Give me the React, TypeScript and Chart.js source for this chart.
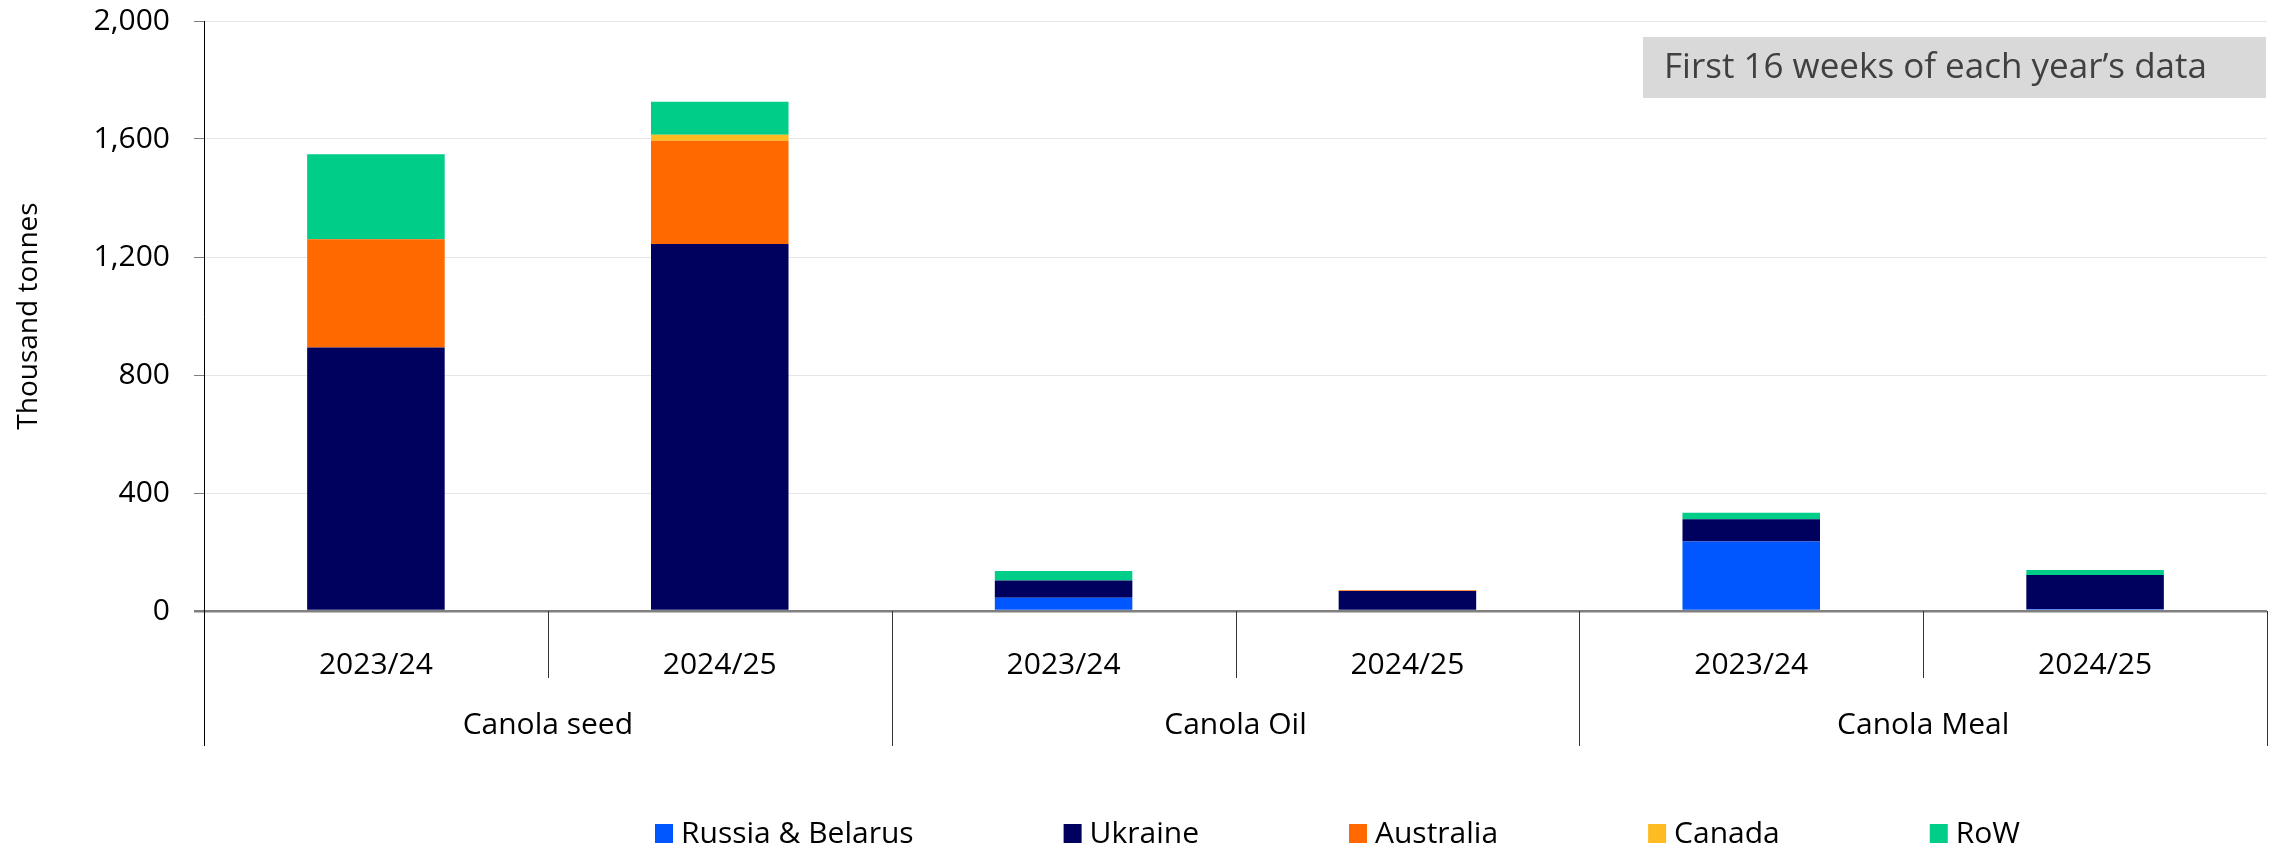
import React, { useEffect, useRef } from "react";
import { Chart, registerables } from "chart.js";

Chart.register(...registerables);

const yearLabels = ["2023/24", "2024/25", "2023/24", "2024/25", "2023/24", "2024/25"];
const groupLabels = ["Canola seed", "Canola Oil", "Canola Meal"];
const seriesNames = ["Russia & Belarus", "Ukraine", "Australia", "Canada", "RoW"];
const russiaBelarus = [0, 0, 45, 0, 236, 6];
const ukraine = [893, 1244, 58, 68, 75, 116];
const australia = [367, 350, 0, 2, 0, 0];
const canada = [0, 20, 0, 0, 0, 0];
const row = [288, 112, 33, -4, 22, 17];
const seriesColors = ["#0057FF", "#00005F", "#FF6900", "#FFBB22", "#00CD88"];
const yTicks = [0, 400, 800, 1200, 1600, 2000];
const noteText = "First 16 weeks of each year\u2019s data";
const yTitle = "Thousand tonnes";

const FONT = "'Open Sans', 'Noto Sans', sans-serif";

const overlayPlugin = {
  id: "overlay",
  afterDraw(chart: any) {
    const ctx = chart.ctx;
    const xs = chart.scales.x;
    const area = chart.chartArea;
    const n = yearLabels.length;
    const base = area.bottom;
    ctx.save();
    // separators
    const bounds: number[] = [];
    for (let i = 0; i <= n; i++) {
      if (i === 0) bounds.push(area.left);
      else if (i === n) bounds.push(area.right);
      else bounds.push((xs.getPixelForValue(i - 1) + xs.getPixelForValue(i)) / 2);
    }
    ctx.lineWidth = 1;
    bounds.forEach((bx, i) => {
      const long = i % 2 === 0;
      ctx.strokeStyle = i === 0 ? "#000000" : "#333333";
      ctx.beginPath();
      const px = Math.round(bx) + 0.5;
      ctx.moveTo(px, base);
      ctx.lineTo(px, long ? 746 : 678);
      ctx.stroke();
    });
    // group labels
    ctx.fillStyle = "#000000";
    ctx.font = `30px ${FONT}`;
    ctx.textAlign = "center";
    ctx.textBaseline = "middle";
    groupLabels.forEach((g, gi) => {
      const cx = (bounds[gi * 2] + bounds[gi * 2 + 2]) / 2;
      ctx.fillText(g, cx, 725);
    });
    // note box
    ctx.fillStyle = "#D9D9D9";
    ctx.fillRect(1643, 37, 2266 - 1643, 61);
    ctx.fillStyle = "#404040";
    ctx.font = `35px ${FONT}`;
    ctx.textAlign = "left";
    ctx.textBaseline = "middle";
    ctx.fillText(noteText, 1664, 68);
    // legend
    ctx.font = `30px ${FONT}`;
    let lx = 655;
    const ly = 834;
    seriesNames.forEach((name, i) => {
      ctx.fillStyle = seriesColors[i];
      ctx.fillRect(lx, ly - 10, 18, 19);
      ctx.fillStyle = "#000000";
      ctx.fillText(name, lx + 26, ly);
      lx += 26 + ctx.measureText(name).width + 150;
    });
    ctx.restore();
  },
};

export default function App() {
  const ref = useRef<HTMLCanvasElement | null>(null);
  useEffect(() => {
    if (!ref.current) return;
    const values = [russiaBelarus, ukraine, australia, canada, row];
    const chart = new Chart(ref.current, {
      type: "bar",
      data: {
        labels: yearLabels,
        datasets: seriesNames.map((name, i) => ({
          label: name,
          data: values[i],
          backgroundColor: seriesColors[i],
          borderWidth: 0,
          barPercentage: 0.4,
          categoryPercentage: 1,
          clip: false as any,
        })),
      },
      options: {
        responsive: false,
        animation: false,
        layout: { padding: { top: 21, right: 8, left: 0, bottom: 0 } },
        plugins: {
          legend: { display: false },
          tooltip: { enabled: false },
        },
        scales: {
          x: {
            stacked: true,
            grid: { display: false },
            border: { display: false },
            ticks: {
              color: "#000000",
              font: { family: FONT, size: 30 },
              padding: 28,
              maxRotation: 0,
              autoSkip: false,
            },
            afterFit: (s: any) => {
              s.height = 237;
            },
          },
          y: {
            stacked: true,
            min: 0,
            max: 2000,
            afterBuildTicks: (s: any) => {
              s.ticks = yTicks.map((v) => ({ value: v }));
            },
            ticks: {
              color: "#000000",
              font: { family: FONT, size: 30 },
              padding: 24,
              callback: (v: any) => Number(v).toLocaleString("en-US"),
            },
            grid: {
              color: (c: any) => (c.tick && c.tick.value === 0 ? "#808080" : "#E6E6E6"),
              lineWidth: (c: any) => (c.tick && c.tick.value === 0 ? 2.5 : 1),
              tickColor: "#7F7F7F",
              tickLength: 10,
            },
            border: { display: true, color: "#000000", width: 1 },
            title: {
              display: true,
              text: yTitle,
              color: "#000000",
              font: { family: FONT, size: 28 },
              padding: { top: 12, bottom: 0 },
            },
            afterFit: (s: any) => {
              s.width = 204;
              s.paddingTop = 0;
              s.paddingBottom = 0;
            },
          },
        },
      },
      plugins: [overlayPlugin],
    });
    return () => chart.destroy();
  }, []);
  return (
    <div style={{ position: "fixed", left: 0, top: 0, width: 2275, height: 848, background: "#fff" }}>
      <canvas ref={ref} width={2275} height={848} style={{ display: "block" }} />
    </div>
  );
}
